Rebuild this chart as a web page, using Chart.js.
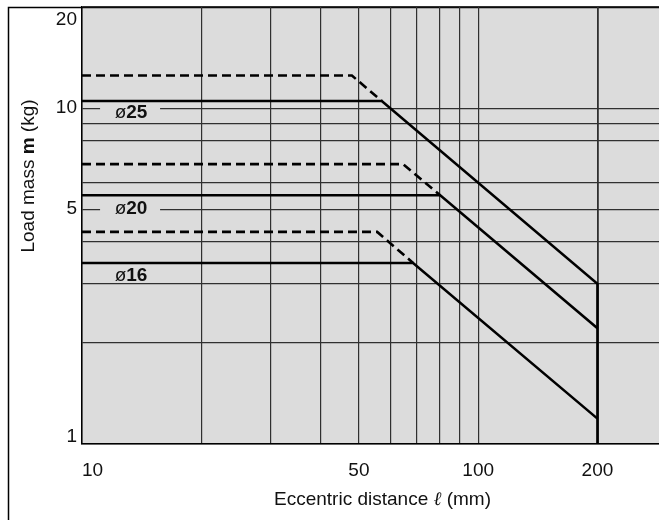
<!DOCTYPE html>
<html>
<head>
<meta charset="utf-8">
<script src="https://cdn.jsdelivr.net/npm/chart.js@4.4.1/dist/chart.umd.min.js"></script>
<style>
  html, body { margin: 0; padding: 0; background: #ffffff; }
  #wrap { width: 659px; height: 520px; position: relative; }
</style>
</head>
<body>
<div id="wrap"><canvas id="chart" width="659" height="520"></canvas></div>
<script>
// Grid and tick values (log-log chart)
const xGridValues = [10, 20, 30, 40, 50, 60, 70, 80, 90, 100, 200];
const yGridValues = [1, 2, 3, 4, 5, 6, 8, 9, 10, 20];
const xTickLabels = [10, 50, 100, 200];
const yTickLabels = [1, 5, 10, 20];

// Allowable load mass, solid lines (eccentric distance mm -> load kg)
const bore25X = [10, 57.1, 200, 200];
const bore25Y = [10.5, 10.5, 3.0, 1];
const bore20X = [10, 80.2, 200];
const bore20Y = [5.5, 5.5, 2.21];
const bore16X = [10, 68.5, 200];
const bore16Y = [3.46, 3.46, 1.19];

// Dashed lines
const bore25DashX = [10, 48.0, 57.1];
const bore25DashY = [12.5, 12.5, 10.5];
const bore20DashX = [10, 64.6, 80.2];
const bore20DashY = [6.81, 6.81, 5.5];
const bore16DashX = [10, 55.6, 68.5];
const bore16DashY = [4.28, 4.28, 3.46];

// Bore size labels: text, anchor x, anchor y
const boreLabels = ['25', '20', '16'];
const boreLabelX = [13.3, 13.3, 13.3];
const boreLabelY = [9.73, 5.04, 3.18];

const FONT = '"Liberation Sans", Arial, Helvetica, sans-serif';
const PLOT_BG = '#dcdcdc';
const GRID = '#303030';

function pts(xs, ys) { return xs.map((x, i) => ({ x: x, y: ys[i] })); }

function solid(xs, ys) {
  return { data: pts(xs, ys), borderColor: '#000', borderWidth: 2.6,
           borderDash: [], showLine: true, pointRadius: 0, tension: 0,
           borderJoinStyle: 'miter', borderCapStyle: 'butt' };
}
function dashed(xs, ys) {
  return { data: pts(xs, ys), borderColor: '#000', borderWidth: 2.6,
           borderDash: [9, 5], showLine: true, pointRadius: 0, tension: 0,
           borderJoinStyle: 'miter', borderCapStyle: 'butt' };
}

const decor = {
  id: 'decor',
  beforeDraw(chart) {
    const { ctx, chartArea: a } = chart;
    ctx.save();
    ctx.fillStyle = '#fff';
    ctx.fillRect(0, 0, chart.width, chart.height);
    ctx.fillStyle = PLOT_BG;
    ctx.fillRect(a.left, a.top, a.right - a.left, a.bottom - a.top);
    // outer frame
    ctx.strokeStyle = '#000';
    ctx.lineWidth = 1.5;
    ctx.beginPath();
    ctx.moveTo(8.5, chart.height);
    ctx.lineTo(8.5, 7.5);
    ctx.lineTo(chart.width, 7.5);
    ctx.stroke();
    ctx.restore();
  },
  beforeDatasetsDraw(chart) {
    const { ctx } = chart;
    const xs = chart.scales.x, ys = chart.scales.y;
    ctx.save();
    boreLabels.forEach((t, i) => {
      const cx = xs.getPixelForValue(boreLabelX[i]);
      const cy = ys.getPixelForValue(boreLabelY[i]);
      ctx.fillStyle = PLOT_BG;
      ctx.fillRect(cx - 31, cy - 7, 60, 13);
      ctx.fillStyle = '#111';
      ctx.textBaseline = 'middle';
      ctx.textAlign = 'left';
      ctx.font = '19px ' + FONT;
      const phiW = ctx.measureText('ø').width;
      ctx.font = 'bold 19px ' + FONT;
      const numW = ctx.measureText(t).width;
      const x0 = cx - (phiW + numW) / 2;
      ctx.font = '19px ' + FONT;
      ctx.fillText('ø', x0, cy + 1);
      ctx.font = 'bold 19px ' + FONT;
      ctx.fillText(t, x0 + phiW, cy + 1);
    });
    ctx.restore();
  },
  afterDraw(chart) {
    const { ctx, chartArea: a } = chart;
    const xs = chart.scales.x, ys = chart.scales.y;
    ctx.save();
    ctx.fillStyle = '#111';
    ctx.font = '19px ' + FONT;
    // y tick labels
    ctx.textAlign = 'right';
    ctx.textBaseline = 'middle';
    yTickLabels.forEach(v => {
      let py = ys.getPixelForValue(v);
      if (py < a.top + 12) py = a.top + 13;
      if (py > a.bottom - 6) py = a.bottom - 7;
      ctx.fillText(String(v), a.left - 5, py);
    });
    // x tick labels
    ctx.textBaseline = 'middle';
    xTickLabels.forEach(v => {
      const px = xs.getPixelForValue(v);
      if (px - a.left < 10) { ctx.textAlign = 'left'; ctx.fillText(String(v), a.left, 471); }
      else { ctx.textAlign = 'center'; ctx.fillText(String(v), px, 471); }
    });
    // x axis title with italic script l
    const xParts = [['Eccentric distance ', '19px ' + FONT], ['ℓ', 'italic 19px "DejaVu Serif", serif'], [' (mm)', '19px ' + FONT]];
    drawRich(ctx, xParts, (a.left + a.right) / 2 + 12, 500);
    // y axis title, rotated
    ctx.translate(29, 176);
    ctx.rotate(-Math.PI / 2);
    const yParts = [['Load mass ', '19px ' + FONT], ['m', 'bold 19px ' + FONT], [' (kg)', '19px ' + FONT]];
    drawRich(ctx, yParts, 0, 0);
    ctx.restore();
  }
};

function drawRich(ctx, parts, cx, cy) {
  let total = 0;
  parts.forEach(p => { ctx.font = p[1]; total += ctx.measureText(p[0]).width; });
  let x = cx - total / 2;
  ctx.textAlign = 'left';
  ctx.textBaseline = 'middle';
  parts.forEach(p => { ctx.font = p[1]; ctx.fillText(p[0], x, cy); x += ctx.measureText(p[0]).width; });
}

new Chart(document.getElementById('chart'), {
  type: 'scatter',
  data: {
    datasets: [
      dashed(bore25DashX, bore25DashY),
      dashed(bore20DashX, bore20DashY),
      dashed(bore16DashX, bore16DashY),
      solid(bore25X, bore25Y),
      solid(bore20X, bore20Y),
      solid(bore16X, bore16Y)
    ]
  },
  options: {
    responsive: false,
    devicePixelRatio: 1,
    animation: false,
    layout: { padding: { top: 7, right: 0, left: 0, bottom: 0 } },
    plugins: { legend: { display: false }, tooltip: { enabled: false } },
    scales: {
      x: {
        type: 'logarithmic', min: 10, max: 286,
        afterBuildTicks: s => { s.ticks = xGridValues.map(v => ({ value: v })); },
        afterFit: s => { s.height = 76; },
        ticks: { display: false },
        grid: { color: GRID, lineWidth: c => (c.tick && c.tick.value === 200 ? 1.8 : 1.2), drawTicks: false },
        border: { display: true, color: '#000', width: 1.5 }
      },
      y: {
        type: 'logarithmic', min: 1, max: 20,
        afterBuildTicks: s => { s.ticks = yGridValues.map(v => ({ value: v })); },
        afterFit: s => { s.width = 82; },
        ticks: { display: false },
        grid: { color: GRID, lineWidth: 1.2, drawTicks: false },
        border: { display: true, color: '#000', width: 1.5 }
      }
    }
  },
  plugins: [decor]
});
</script>
</body>
</html>
